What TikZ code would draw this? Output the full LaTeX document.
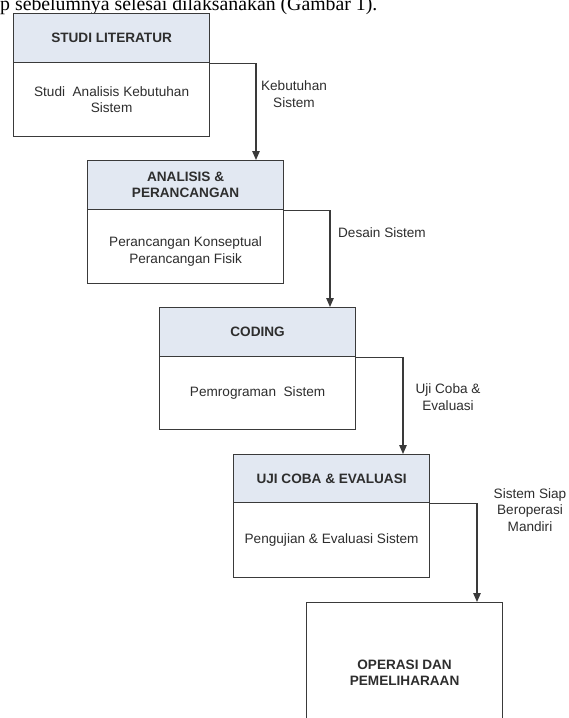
\documentclass[tikz,border=0pt]{standalone}
\usepackage{fontspec}
\setmainfont{Liberation Sans}
\newfontfamily\serifcap{Liberation Serif}
\usetikzlibrary{arrows.meta}
\definecolor{hdrfill}{HTML}{E2E8F2}
\definecolor{edge}{HTML}{3A3A3A}
\definecolor{txt}{HTML}{2E2E2E}
\begin{document}
\begin{tikzpicture}[x=1pt,y=-1pt,
  hdr/.style={draw=edge,line width=1.2pt,fill=hdrfill,minimum width=196pt,anchor=north west,
    font=\fontsize{13.6}{16}\selectfont\bfseries,text=txt,align=center,inner sep=0pt},
  bodybox/.style={draw=edge,line width=1.2pt,fill=white,minimum width=196pt,anchor=north west,
    font=\fontsize{13.6}{16.5}\selectfont,text=txt,align=center,inner sep=0pt},
  lbl/.style={font=\fontsize{13.6}{16.5}\selectfont,text=txt,align=center,inner sep=0pt},
  conn/.style={draw=edge,line width=1.2pt,-{Triangle[length=9pt,width=7.5pt]}}]
\useasboundingbox (0,0) rectangle (568,718);
\clip (0,0) rectangle (568,718);
\fill[white] (0,0) rectangle (568,718);
\node[anchor=base west,inner sep=0pt,font=\serifcap\fontsize{19.8}{23}\selectfont] (cap) at (0,10) {p sebelumnya selesai dilaksanakan (Gambar 1).};
% box 1
\node[bodybox,minimum height=74pt] (b1) at (13,62) {Studi\ \ Analisis Kebutuhan\\Sistem};
\node[hdr,minimum height=49pt] (h1) at (13,13) {STUDI LITERATUR};
% box 2
\node[bodybox,minimum height=74pt] (b2) at (87,209) {};
\node[lbl] (t2) at ([yshift=-5pt]b2.center) {Perancangan Konseptual\\Perancangan Fisik};
\node[hdr,minimum height=49pt] (h2) at (87,160) {ANALISIS \&\\PERANCANGAN};
% box 3
\node[bodybox,minimum height=73pt] (b3) at (159,356) {Pemrograman\ \ Sistem};
\node[hdr,minimum height=49pt] (h3) at (159,307) {CODING};
% box 4
\node[bodybox,minimum height=75pt] (b4) at (233,502) {Pengujian \& Evaluasi Sistem};
\node[hdr,minimum height=48pt] (h4) at (233,454) {UJI COBA \& EVALUASI};
% box 5
\node[bodybox,minimum height=140pt,font=\fontsize{13.6}{16.5}\selectfont\bfseries] (b5) at (306,602) {OPERASI DAN\\PEMELIHARAAN};
% connector end points
\coordinate (e1) at (256,160);
\coordinate (e2) at (330,307);
\coordinate (e3) at (403,454);
\coordinate (e4) at (477,602);
\draw[conn] (h1.south east) -| (e1);
\draw[conn] (h2.south east) -| (e2);
\draw[conn] (h3.south east) -| (e3);
\draw[conn] (h4.south east) -| (e4);
% labels
\node[lbl] (l1) at (294,94) {Kebutuhan\\Sistem};
\node[lbl] (l2) at (382,233) {Desain Sistem};
\node[lbl] (l3) at (448,397) {Uji Coba \&\\Evaluasi};
\node[lbl] (l4) at (530,510) {Sistem Siap\\Beroperasi\\Mandiri};
\end{tikzpicture}
\end{document}
